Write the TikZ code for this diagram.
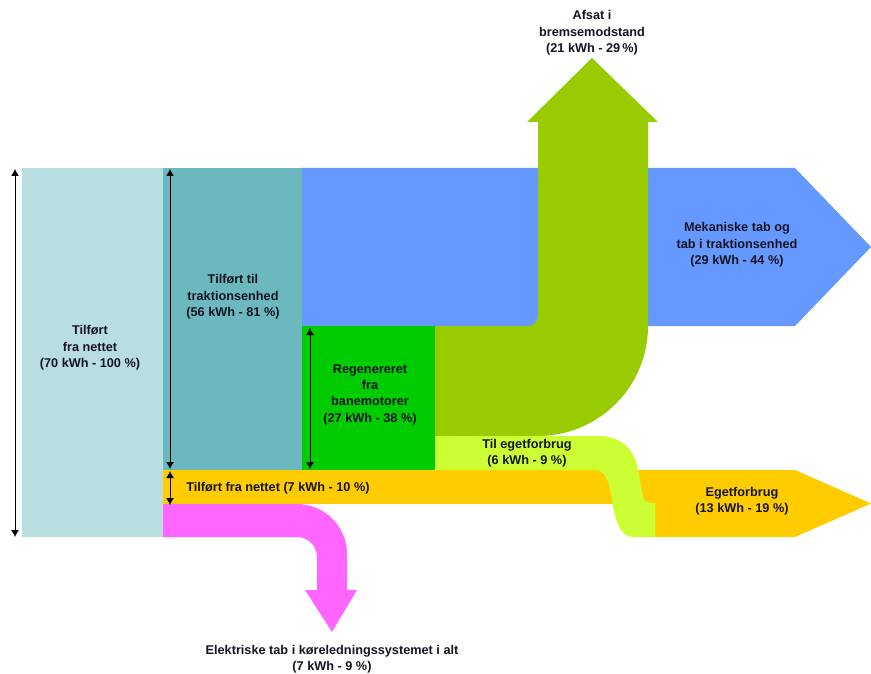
\documentclass[tikz,border=0pt]{standalone}
\usepackage{fontspec}
\setmainfont{Liberation Sans}
\usetikzlibrary{arrows.meta}
\definecolor{cLightBlue}{RGB}{185,222,224}
\definecolor{cTeal}{RGB}{107,184,191}
\definecolor{cBlue}{RGB}{102,153,255}
\definecolor{cGreen}{RGB}{0,204,0}
\definecolor{cOlive}{RGB}{153,204,0}
\definecolor{cLime}{RGB}{204,255,51}
\definecolor{cOrange}{RGB}{255,204,0}
\definecolor{cPink}{RGB}{255,102,255}
\definecolor{cText}{RGB}{20,20,35}
\tikzset{
  lbl/.style={align=center,text=cText,inner sep=0pt,font=\fontsize{12.7}{16.3}\selectfont\bfseries},
  dimarrow/.style={draw=black,line width=0.9pt,{Latex[length=7pt,width=8pt]}-{Latex[length=7pt,width=8pt]}}
}
\begin{document}
\begin{tikzpicture}[x=1pt,y=-1pt]
\useasboundingbox (0,0) rectangle (871,674);
\fill[white] (0,0) rectangle (871,674);
% blocks
\fill[cLightBlue] (22,168) rectangle (163,537);
\fill[cTeal] (163,168) rectangle (302,470);
\fill[cBlue] (302,168) -- (795,168) -- (871,247) -- (795,326) -- (302,326) -- cycle;
\fill[cGreen] (302,326) rectangle (435,470);
% olive: afsat i bremsemodstand
\fill[cOlive] (435,326) -- (528,326) .. controls (533.5,326) and (538,321.5) .. (538,316)
  -- (538,122) -- (527,122) -- (592,58) -- (658,122) -- (648,122) -- (648,326)
  .. controls (648,386.75) and (598.75,436) .. (538,436) -- (435,436) -- cycle;
% orange band and egetforbrug arrow
\fill[cOrange] (163,470) rectangle (660,504);
\fill[cOrange] (655,470) -- (795,470) -- (871,503.5) -- (795,537) -- (655,537) -- cycle;
% lime: til egetforbrug
\fill[cLime] (435,436) -- (597,436) .. controls (625,436) and (636,452) .. (639,475)
  -- (643,497) .. controls (644,502) and (648,503) .. (655,503) -- (655,537) -- (633,537)
  .. controls (620,537) and (615,520) .. (612,500) .. controls (609,480) and (605,470) .. (595,470)
  -- (435,470) -- cycle;
% pink: elektriske tab
\fill[cPink] (163,504) -- (297,504) .. controls (324.6,504) and (347,526.4) .. (347,554)
  -- (347,590) -- (357,590) -- (332,632) -- (305,590) -- (317,590) -- (317,557)
  .. controls (317,546) and (308,537) .. (297,537) -- (163,537) -- cycle;
% labels
\node[lbl] (afsat) at (592,33) {Afsat i\\bremsemodstand\\(21 kWh - 29\,\%)};
\node[lbl] (mek) at (737,245) {Mekaniske tab og\\tab i traktionsenhed\\(29 kWh - 44 \%)};
\node[lbl] (tilf) at (90,348) {Tilført\\fra nettet\\(70 kWh - 100 \%)};
\node[lbl] (trak) at (233,297) {Tilført til\\traktionsenhed\\(56 kWh - 81 \%)};
\node[lbl] (regen) at (370,394.5) {Regenereret\\fra\\banemotorer\\(27 kWh - 38 \%)};
\node[lbl] (tilf7) at (278,488) {Tilført fra nettet (7 kWh - 10 \%)};
\node[lbl] (tilege) at (527,453.5) {Til egetforbrug\\(6 kWh - 9 \%)};
\node[lbl] (ege) at (742,501) {Egetforbrug\\(13 kWh - 19 \%)};
\node[lbl] (elek) at (332,659.5) {Elektriske tab i køreledningssystemet i alt\\(7 kWh - 9 \%)};
% dimension arrows
\coordinate (a1t) at (15,169); \coordinate (a1b) at (15,537);
\coordinate (a2t) at (170,169); \coordinate (a2b) at (170,469);
\coordinate (a3t) at (170,471); \coordinate (a3b) at (170,505);
\coordinate (a4t) at (310,328); \coordinate (a4b) at (310,469);
\draw[dimarrow] (a1t) -- (a1b);
\draw[dimarrow] (a2t) -- (a2b);
\draw[dimarrow] (a3t) -- (a3b);
\draw[dimarrow] (a4t) -- (a4b);
\end{tikzpicture}
\end{document}
